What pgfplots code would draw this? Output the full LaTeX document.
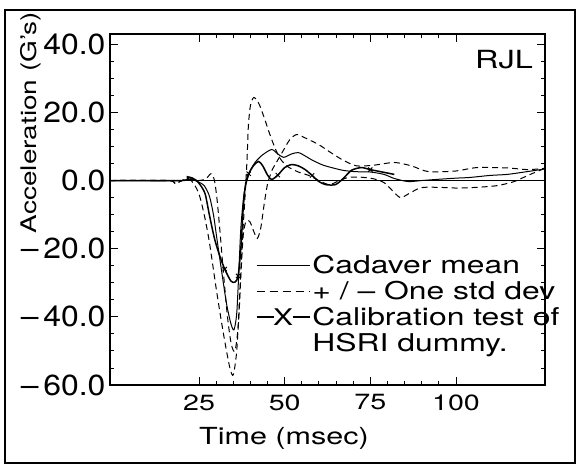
\documentclass[border=0pt]{standalone}
\usepackage{fontspec}
\setmainfont{TeX Gyre Heros}[FakeStretch=1.3]
\newfontfamily\tickfont{TeX Gyre Heros}[FakeStretch=1.1]
\usepackage{pgfplots}
\pgfplotsset{compat=1.18}

\begin{document}
\begin{tikzpicture}
% page and outer frame, in pt (1pt ~ 1px of the reference)
\path (-110pt,-86pt) rectangle (470pt,385pt);
\draw[line width=1.6pt] (-105pt,-78pt) rectangle (465pt,375pt);
\begin{axis}[
    at={(0pt,0pt)}, anchor=south west,
    scale only axis, width=435pt, height=351pt,
    xmin=-1, xmax=126, ymin=-60, ymax=43,
    xtick={25,50,75,100}, xticklabels={25,50,75,100},
    ytick={-60,-40,-20,0,20,40},
    yticklabels={–\,60.0,–\,40.0,–\,20.0,0.0,20.0,40.0},
    minor x tick num=4, minor y tick num=3,
    xtick pos=both, ytick pos=both, tick align=inside,
    major tick length=8pt, minor tick length=4pt,
    every tick/.style={black, line width=0.9pt},
    axis line style={line width=1.1pt},
    yticklabel style={font=\tickfont\fontsize{29}{30}\selectfont, xshift=-1pt},
    xticklabel style={font=\fontsize{22}{24}\selectfont, yshift=-6pt},
    xlabel={Time (msec)},
    xlabel style={font=\fontsize{23.5}{25}\selectfont, at={(axis description cs:0.40,0)}, anchor=north, yshift=-39pt},
    ylabel={Acceleration (G’s)},
    ylabel style={font=\fontsize{21.5}{23}\selectfont, at={(axis description cs:-0.182,0.748)}, anchor=center},
    legend cell align=left,
    legend style={draw=none, fill=none, at={(rel axis cs:0.335,0.375)}, anchor=north west,
        font=\fontsize{24.5}{26}\selectfont, row sep=2pt, inner sep=0pt},
    smooth, tension=0.45,
]
% zero line
\addplot[black, line width=0.8pt, no marks, sharp plot, forget plot] coordinates {(-1,0) (126,0)};

% cadaver mean
\addplot[black, line width=1pt, no marks,
    legend image code/.code={\draw[line width=1.2pt] (0pt,0pt) -- (53pt,0pt);}]
coordinates {
(-1,0)(20,0)(21.5,1.2)(23,0.4)(25,-0.5)(26.5,-1.5)(28,-4.5)(29.2,-10)(30.2,-17)
(31.5,-26)(33,-36)(34.3,-42)(35.2,-43.8)(36,-39)(36.6,-27)(37.2,-14)(38.1,-4)
(39,0)(40,3)(41.5,5.5)(43.5,7.5)(46.2,9.1)(48,7.8)(49.7,6.8)(52,7.8)(54,8.2)
(56,7.2)(58,6)(61,4.6)(63.7,3.8)(67,3)(70.6,2.6)(75,2.5)(79,1.8)(82,0.6)
(86,-0.3)(90,0)(94,0.3)(100,0.7)(104,0.9)(110,1.5)(115,1.8)(120,2.5)(126,3.4)
};
\addlegendentry{Cadaver mean}

% mean - one std dev
\addplot[black, line width=1pt, no marks, dash pattern=on 6pt off 4pt,
    legend image code/.code={\draw[line width=1.3pt, dash pattern=on 8pt off 5pt] (0pt,0pt) -- (53pt,0pt);}]
coordinates {
(-1,0)(16,0)(18,-0.8)(20,0)(22,0.5)(23.5,-1)(25,-4)(26.5,-10)(28,-18)(30.2,-33)
(32.3,-46)(34,-55)(35,-57)(36,-50)(36.7,-37)(37.5,-20)(38.4,-5)(39,6)(39.4,16)
(40,22)(41,24.4)(42.5,22.5)(44,18.5)(45.5,14)(47.4,9)(49,6)(51,4)(54,2.5)
(57,1.5)(60,0)(63,-1.2)(66,0)(68.6,0.9)(72,1)(76,0.5)(79,-0.6)(81,-2.5)
(83.7,-5)(86,-4)(89.8,-2.1)(95,-2)(100,-2.2)(106,-2)(112,-1.5)(117,-0.3)
(121,1.5)(126,3.6)
};
\addlegendentry{+ / --\ One std dev}

% mean + one std dev
\addplot[black, line width=1pt, no marks, dash pattern=on 6pt off 4pt, forget plot]
coordinates {
(-1,0)(16,0)(18,-1)(20,0)(22,0.3)(25,0)(27,0.5)(28.5,2)(29.5,0)(30.3,-6)
(31.2,-16)(32.2,-28)(33.3,-40)(34.4,-48)(35.5,-50)(36.5,-42)(37.2,-28)
(37.9,-16)(38.7,-12)(39.8,-12)(41,-15)(42,-17)(43,-14)(44,-7)(45,-1)(46.3,3)
(47.4,5)(49.7,9)(51.5,12)(53.5,13.5)(56,12.5)(60,10.5)(63,8.5)(67,6)(71,4.3)
(76,4.5)(82,5.3)(87,4.3)(92,2.6)(100,2.8)(106,3.8)(115,3.7)(121,3.2)(126,3.6)
};

% calibration test of HSRI dummy
\addplot[black, line width=1.5pt, mark=x, mark size=3pt,
    mark options={solid, line width=1pt},
    mark indices={10,13,17,23,28,35},
    legend image code/.code={
        \draw[line width=1.5pt] (0pt,0pt) -- (17pt,0pt) (36pt,0pt) -- (53pt,0pt);
        \node[inner sep=0pt, anchor=center, font=\fontsize{23}{25}\selectfont] at (26.5pt,-1pt) {X};}]
coordinates {
(-1,0)(20,0)(22,1)(24,0.2)(25.5,-1.5)(26.8,-4)(28,-10)(29.5,-17)(31,-22)
(32.5,-26)(34.3,-29.5)(35.5,-29.8)(36.4,-28)(37.2,-20)(37.9,-8)(38.6,-1)
(39.5,2)(41,4.5)(42.4,5.6)(43.6,4.3)(45,1.6)(46.2,0.3)(48,1.6)(50,3.8)
(52,4.7)(54,4.3)(56,3.2)(58,1.5)(60,-0.3)(62,-1.2)(64.8,-1.2)(67,0.5)
(69.5,3)(72.4,3.8)(75,3.2)(78,2.6)(82,1.8)
};
\addlegendentry{Calibration test of}
\addlegendimage{empty legend}
\addlegendentry{HSRI dummy.}

\node[font=\fontsize{25}{27}\selectfont] at (rel axis cs:0.906,0.926) {RJL};
\end{axis}
\end{tikzpicture}
\end{document}
